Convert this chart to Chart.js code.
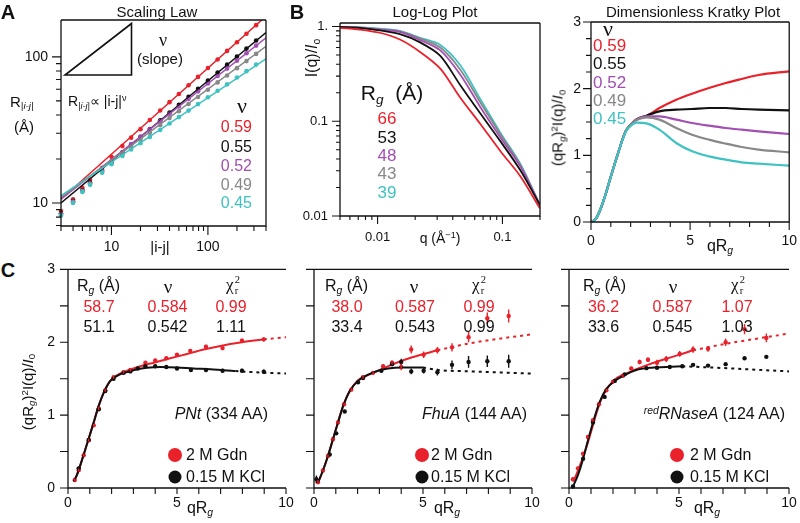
<!DOCTYPE html>
<html>
<head>
<meta charset="utf-8">
<script src="https://cdn.jsdelivr.net/npm/chart.js@4.4.0/dist/chart.umd.min.js"></script>
<style>
  body { margin: 0; background: #fff; }
  #fig { position: relative; width: 800px; height: 523px; overflow: hidden; background: #fff; }
  #fig canvas { position: absolute; }
  .t { position: absolute; white-space: nowrap; line-height: 1; font-family: 'Liberation Sans', Arial, sans-serif; color: #111; }
  .t sub, .t sup { font-size: 65%; line-height: 0; }
  .t sub { vertical-align: -0.3em; }
  .t sup { vertical-align: 0.5em; }
  .ss { display: inline-flex; flex-direction: column; font-size: 62%; line-height: 1.05; vertical-align: 0.7em; margin-left: 1px; }
  .dot { position: absolute; border-radius: 50%; transform: translate(-50%, -50%); }
</style>
</head>
<body>
<div id="fig"></div>
<script>
const FONT = "'Liberation Sans', Arial, sans-serif";
const SERIF = "'Liberation Serif', 'DejaVu Serif', serif";
const RED = '#e8212b', BLK = '#111111', PUR = '#a24fb2', GRY = '#888888', CYN = '#3ec2c2';

// ---- A: scaling law ----
const aN = [3, 4, 5, 6, 8, 10, 13, 16, 20, 25, 32, 40, 50, 63, 79, 100, 126, 158, 200, 251, 316];
const aRed = [8.8, 10.6, 12.7, 14.4, 17.4, 20.7, 24.5, 28, 32, 37, 43, 49, 55.7, 64, 73, 84, 96, 110, 126, 144, 165];
const aBlack = [8.5, 10.3, 12.2, 13.8, 16.8, 19.2, 22.2, 25.1, 28.4, 32.1, 36.8, 41.6, 47, 53.4, 60.4, 68.8, 78.1, 88.5, 100.7, 114, 129.5];
const aPurple = [8.4, 10.2, 12.1, 13.6, 16.5, 19, 22, 25.3, 28.4, 31.9, 36.3, 40.8, 45.8, 51.6, 58.1, 65.7, 74.1, 83.2, 94.1, 105.9, 119.5];
const aGray = [8.3, 10.1, 12, 13.5, 16.3, 18.7, 21.5, 24.3, 27.1, 30.2, 34.1, 38.1, 42.5, 47.6, 53.2, 59.6, 66.9, 74.6, 83.8, 93.6, 104.9];
const aCyan = [8.2, 10, 11.9, 13.3, 16.1, 18.4, 21, 23.2, 25.6, 28.3, 31.6, 35, 38.7, 42.9, 47.5, 52.9, 58.6, 64.9, 72.2, 79.9, 88.6];
const aFitX = [3, 400];
const aFitRed = [10.6, 190], aFitBlack = [10.0, 147], aFitPurple = [10.6, 135], aFitGray = [10.9, 118], aFitCyan = [11.2, 97];
const aNu = ['0.59', '0.55', '0.52', '0.49', '0.45'];
const aXTicks = [3, 4, 5, 6, 7, 8, 9, 10, 20, 30, 40, 50, 60, 70, 80, 90, 100, 200, 300, 400];
const aYTicks = [7, 8, 9, 10, 20, 30, 40, 50, 60, 70, 80, 90, 100];
const aLabels = { 10: '10', 100: '100' };

// ---- B: log-log ----
const bQ = [0.005, 0.0072, 0.0104, 0.0151, 0.0219, 0.0318, 0.046, 0.0668, 0.0968, 0.14, 0.2];
const bRed = [0.97, 0.93, 0.86, 0.73, 0.54, 0.36, 0.177, 0.093, 0.048, 0.026, 0.012];
const bBlack = [0.99, 0.97, 0.91, 0.83, 0.68, 0.49, 0.24, 0.12, 0.061, 0.03, 0.013];
const bPurple = [0.99, 0.97, 0.93, 0.88, 0.72, 0.56, 0.31, 0.14, 0.067, 0.033, 0.013];
const bGray = [0.99, 0.98, 0.94, 0.89, 0.75, 0.6, 0.35, 0.157, 0.072, 0.034, 0.013];
const bCyan = [0.99, 0.98, 0.95, 0.9, 0.76, 0.64, 0.39, 0.17, 0.075, 0.035, 0.013];
const bRg = ['66', '53', '48', '43', '39'];
const bXTicks = [0.005, 0.006, 0.007, 0.008, 0.009, 0.01, 0.02, 0.03, 0.04, 0.05, 0.06, 0.07, 0.08, 0.09, 0.1, 0.2];
const bYTicks = [0.01, 0.02, 0.03, 0.04, 0.05, 0.06, 0.07, 0.08, 0.09, 0.1, 0.2, 0.3, 0.4, 0.5, 0.6, 0.7, 0.8, 0.9, 1];
const bXLabels = { 0.01: '0.01', 0.1: '0.1' };
const bYLabels = { 0.01: '0.01', 0.1: '0.1', 1: '1.' };

// ---- Kratky ----
const kX = [0, 0.25, 0.5, 0.75, 1.0, 1.33, 1.75, 2.0, 2.3, 2.8, 3.45, 4.3, 5.1, 5.95, 6.8, 7.6, 8.45, 10];
const kRed = [0, 0.05, 0.21, 0.43, 0.68, 1.0, 1.36, 1.46, 1.54, 1.59, 1.71, 1.835, 1.925, 2.01, 2.085, 2.145, 2.205, 2.26];
const kBlack = [0, 0.05, 0.21, 0.43, 0.68, 1.0, 1.36, 1.46, 1.54, 1.595, 1.66, 1.685, 1.695, 1.71, 1.71, 1.695, 1.685, 1.675];
const kPurple = [0, 0.05, 0.21, 0.43, 0.68, 1.0, 1.36, 1.46, 1.54, 1.585, 1.585, 1.535, 1.485, 1.445, 1.41, 1.385, 1.36, 1.32];
const kGray = [0, 0.05, 0.21, 0.43, 0.68, 1.0, 1.36, 1.46, 1.53, 1.57, 1.535, 1.41, 1.31, 1.235, 1.175, 1.125, 1.085, 1.045];
const kCyan = [0, 0.05, 0.21, 0.43, 0.68, 1.0, 1.35, 1.44, 1.49, 1.48, 1.385, 1.185, 1.06, 0.985, 0.935, 0.895, 0.875, 0.845];
const kXTicks = [0, 1, 2, 3, 4, 5, 6, 7, 8, 9, 10];
const kYTicks = [0, 0.25, 0.5, 0.75, 1, 1.25, 1.5, 1.75, 2, 2.25, 2.5, 2.75, 3];
const kXLabels = { 0: '0', 5: '5', 10: '10' };
const kYLabels = { 0: '0', 1: '1', 2: '2', 3: '3' };

// ---- C: fits [x, y], points [x, y, err] ----
const c1RedFit = [[0.26, 0.09], [0.41, 0.18], [0.69, 0.43], [0.95, 0.68], [1.18, 0.9], [1.41, 1.13], [1.64, 1.31], [1.94, 1.47], [2.32, 1.56], [2.71, 1.61], [3.32, 1.67], [3.93, 1.72], [4.69, 1.78], [5.46, 1.84], [6.22, 1.9], [6.99, 1.95], [7.98, 2.0], [8.98, 2.04]];
const c1RedExt = [[8.98, 2.04], [10, 2.07]];
const c1RedPts = [[0.31, 0.11, 0.02], [0.49, 0.245, 0.02], [0.72, 0.45, 0.02], [0.95, 0.655, 0.02], [1.18, 0.86, 0.02], [1.41, 1.09, 0.02], [1.71, 1.34, 0.02], [2.09, 1.52, 0.02], [2.55, 1.59, 0.02], [2.86, 1.62, 0.02], [3.55, 1.72, 0.02], [4.0, 1.75, 0.02], [4.51, 1.78, 0.02], [5.0, 1.83, 0.02], [5.61, 1.88, 0.02], [6.33, 1.94, 0.025], [7.09, 1.92, 0.03], [7.98, 2.02, 0.03], [8.98, 2.04, 0.03]];
const c1BlkFit = [[0.26, 0.09], [0.41, 0.18], [0.69, 0.43], [0.95, 0.68], [1.18, 0.9], [1.41, 1.13], [1.64, 1.31], [1.94, 1.47], [2.32, 1.55], [2.71, 1.59], [3.17, 1.63], [3.62, 1.65], [4.24, 1.66], [5.0, 1.655], [5.76, 1.64], [6.53, 1.63], [7.14, 1.615], [7.68, 1.605]];
const c1BlkExt = [[7.68, 1.605], [8.5, 1.59], [10, 1.57]];
const c1BlkPts = [[0.49, 0.27, 0.02], [0.95, 0.66, 0.02], [1.41, 1.08, 0.02], [1.71, 1.33, 0.02], [2.09, 1.5, 0.02], [2.55, 1.58, 0.02], [2.86, 1.6, 0.02], [3.2, 1.64, 0.02], [3.55, 1.67, 0.02], [4.0, 1.67, 0.02], [4.51, 1.66, 0.02], [5.0, 1.64, 0.02], [5.64, 1.62, 0.02], [6.33, 1.62, 0.02], [7.09, 1.61, 0.025], [7.98, 1.61, 0.025], [8.98, 1.595, 0.03]];

const c2RedFit = [[0.18, 0.07], [0.41, 0.24], [0.64, 0.44], [0.87, 0.67], [1.1, 0.9], [1.33, 1.12], [1.64, 1.33], [2.02, 1.48], [2.48, 1.55], [2.94, 1.61], [3.55, 1.69], [4.16, 1.76], [4.92, 1.83], [5.66, 1.89]];
const c2RedExt = [[5.66, 1.89], [7.22, 1.99], [10, 2.11]];
const c2RedPts = [[0.18, 0.08, 0.03], [0.41, 0.24, 0.02], [0.64, 0.44, 0.02], [0.87, 0.67, 0.02], [1.1, 0.9, 0.02], [1.38, 1.15, 0.02], [1.71, 1.35, 0.02], [2.25, 1.52, 0.02], [2.71, 1.58, 0.02], [3.17, 1.67, 0.025], [3.58, 1.72, 0.03], [4.0, 1.66, 0.045], [4.46, 1.9, 0.055], [5.03, 1.83, 0.045], [5.66, 1.89, 0.045], [6.33, 1.93, 0.055], [7.09, 2.07, 0.07], [7.95, 2.33, 0.08], [8.93, 2.36, 0.09]];
const c2BlkFit = [[0.18, 0.07], [0.41, 0.24], [0.64, 0.44], [0.87, 0.67], [1.1, 0.9], [1.33, 1.12], [1.64, 1.33], [2.02, 1.47], [2.48, 1.555], [2.94, 1.61], [3.39, 1.64], [4.0, 1.655], [5.0, 1.655]];
const c2BlkExt = [[5.0, 1.655], [5.69, 1.62], [7.22, 1.6], [10, 1.57]];
const c2BlkPts = [[0.11, 0.12, 0.05], [0.72, 0.46, 0.02], [1.02, 0.75, 0.02], [1.41, 1.05, 0.02], [2.02, 1.45, 0.02], [2.25, 1.51, 0.02], [3.09, 1.61, 0.02], [3.58, 1.7, 0.03], [4.0, 1.73, 0.045], [4.46, 1.6, 0.04], [5.03, 1.61, 0.04], [5.66, 1.59, 0.045], [6.33, 1.69, 0.06], [7.09, 1.73, 0.08], [7.95, 1.74, 0.08], [8.93, 1.74, 0.09]];

const c3RedFit = [[0.18, 0.09], [0.33, 0.18], [0.56, 0.36], [0.79, 0.56], [1.02, 0.79], [1.24, 1.02], [1.47, 1.22], [1.77, 1.38], [2.08, 1.49], [2.53, 1.56], [3.06, 1.63], [3.67, 1.7], [4.27, 1.76], [5.03, 1.83], [5.64, 1.89]];
const c3RedExt = [[5.64, 1.89], [7.15, 1.98], [10, 2.12]];
const c3RedPts = [[0.18, 0.12, 0.02], [0.41, 0.27, 0.02], [0.64, 0.47, 0.02], [0.86, 0.7, 0.02], [1.09, 0.93, 0.02], [1.36, 1.15, 0.02], [1.7, 1.34, 0.02], [2.0, 1.46, 0.02], [2.45, 1.54, 0.02], [2.83, 1.64, 0.025], [3.21, 1.73, 0.03], [3.59, 1.76, 0.03], [4.0, 1.72, 0.04], [4.42, 1.77, 0.04], [5.03, 1.84, 0.04], [5.64, 1.9, 0.045], [6.32, 1.91, 0.04], [7.12, 2.0, 0.05], [7.98, 2.18, 0.07], [8.97, 2.06, 0.06]];
const c3BlkFit = [[0.18, 0.02], [0.41, 0.18], [0.64, 0.4], [0.86, 0.65], [1.09, 0.9], [1.39, 1.18], [1.7, 1.36], [2.08, 1.47], [2.53, 1.55], [3.06, 1.62], [3.67, 1.65], [4.42, 1.66], [5.15, 1.67]];
const c3BlkExt = [[5.15, 1.67], [6.39, 1.655], [10, 1.6]];
const c3BlkPts = [[0.18, 0.02, 0.01], [0.64, 0.4, 0.01], [1.09, 0.9, 0.01], [1.62, 1.25, 0.01], [2.08, 1.47, 0.01], [2.53, 1.56, 0.01], [3.52, 1.645, 0.01], [4.0, 1.65, 0.01], [4.58, 1.66, 0.01], [5.15, 1.67, 0.01], [5.64, 1.69, 0.01], [6.32, 1.68, 0.01], [7.12, 1.7, 0.01], [7.98, 1.78, 0.01], [8.97, 1.8, 0.01]];

const cXTicks = [0, 1, 2, 3, 4, 5, 6, 7, 8, 9, 10];
const cYTicks = [0, 0.5, 1, 1.5, 2, 2.5, 3];
const cXLabels = { 0: '0', 5: '5', 10: '10' };
const cYLabels = { 0: '0', 1: '1', 2: '2', 3: '3' };
const c1Stats = [['58.7', '0.584', '0.99'], ['51.1', '0.542', '1.11']];
const c2Stats = [['38.0', '0.587', '0.99'], ['33.4', '0.543', '0.99']];
const c3Stats = [['36.2', '0.587', '1.07'], ['33.6', '0.545', '1.03']];

const fig = document.getElementById('fig');

// axis lines, top/right frame and outward ticks (long for majors)
const framePlugin = {
  id: 'frame',
  afterDraw(chart, args, o) {
    const { ctx, chartArea: a } = chart;
    const x = chart.scales.x, y = chart.scales.y;
    ctx.save();
    ctx.strokeStyle = '#111';
    ctx.lineWidth = 1.3;
    ctx.beginPath();
    ctx.moveTo(a.left, a.top); ctx.lineTo(a.left, a.bottom); ctx.lineTo(a.right, a.bottom);
    if (o.right) ctx.lineTo(a.right, a.top);
    ctx.moveTo(a.left, a.top); ctx.lineTo(a.right, a.top);
    ctx.stroke();
    ctx.lineWidth = 1.1;
    ctx.beginPath();
    x.ticks.forEach(t => {
      const p = x.getPixelForValue(t.value);
      ctx.moveTo(p, a.bottom); ctx.lineTo(p, a.bottom + (t.major ? o.xl[0] : o.xl[1]));
    });
    y.ticks.forEach(t => {
      const p = y.getPixelForValue(t.value);
      ctx.moveTo(a.left, p); ctx.lineTo(a.left - (t.major ? o.yl[0] : o.yl[1]), p);
    });
    ctx.stroke();
    ctx.restore();
  }
};

const errPlugin = {
  id: 'errs',
  afterDatasetsDraw(chart) {
    const ctx = chart.ctx, ys = chart.scales.y;
    chart.data.datasets.forEach((ds, i) => {
      if (!ds.errs) return;
      const meta = chart.getDatasetMeta(i);
      ctx.save();
      ctx.strokeStyle = ds.pointBackgroundColor;
      ctx.lineWidth = 1.4;
      ctx.beginPath();
      meta.data.forEach((pt, j) => {
        const v = ds.data[j].y, e = ds.errs[j];
        ctx.moveTo(pt.x, ys.getPixelForValue(v - e));
        ctx.lineTo(pt.x, ys.getPixelForValue(v + e));
      });
      ctx.stroke();
      ctx.restore();
    });
  }
};

function axis(type, min, max, ticks, majors, labels, tl, pad, size) {
  return {
    type, min, max,
    afterBuildTicks: s => { s.ticks = ticks.map(v => ({ value: v, major: majors.includes(v) })); },
    ticks: {
      autoSkip: false, maxRotation: 0, padding: pad, color: '#111',
      font: { family: FONT, size },
      callback: v => labels[v] || ''
    },
    grid: { drawOnChartArea: false, drawTicks: true, tickLength: tl, color: 'rgba(0,0,0,0)' },
    border: { display: false }
  };
}

function plot(box, m, scales, datasets, frame) {
  const W = m.yw + box.r - box.l + m.pr, H = m.pt + box.b - box.t + m.xh;
  const cv = document.createElement('canvas');
  cv.width = W; cv.height = H;
  cv.style.width = W + 'px'; cv.style.height = H + 'px';
  cv.style.left = (box.l - m.yw) + 'px'; cv.style.top = (box.t - m.pt) + 'px';
  fig.appendChild(cv);
  scales.x.afterFit = s => { s.height = m.xh; };
  scales.y.afterFit = s => { s.width = m.yw; };
  return new Chart(cv, {
    type: 'scatter',
    data: { datasets },
    options: {
      responsive: false, animation: false, devicePixelRatio: 1,
      layout: { padding: { top: m.pt, right: m.pr, left: 0, bottom: 0 } },
      plugins: { legend: { display: false }, tooltip: { enabled: false }, frame },
      scales
    },
    plugins: [framePlugin, errPlugin]
  });
}

const xy = (xs, ys) => xs.map((x, i) => ({ x, y: ys[i] }));
const pr = a => a.map(p => ({ x: p[0], y: p[1] }));
const line = (data, color, w, dash) => ({
  data, showLine: true, borderColor: color, borderWidth: w, borderDash: dash || [],
  pointRadius: 0, cubicInterpolationMode: 'monotone', fill: false
});
const curve = (data, color, w) => ({
  data, showLine: true, borderColor: color, borderWidth: w, tension: 0.3,
  pointRadius: 0, fill: false
});
const dots = (data, color, r, errs) => ({
  data, showLine: false, pointRadius: r, pointBackgroundColor: color, pointBorderWidth: 0, clip: 6, errs
});

// A
plot({ l: 61, t: 20, r: 266, b: 226 }, { yw: 61, pt: 20, pr: 4, xh: 30 }, {
  x: axis('logarithmic', 3, 400, aXTicks, [10, 100], aLabels, 9, 4, 14),
  y: axis('logarithmic', 6.95, 179, aYTicks, [10, 100], aLabels, 9, 4, 14)
}, [
  line(xy(aFitX, aFitCyan), CYN, 1.5), line(xy(aFitX, aFitGray), GRY, 1.5), line(xy(aFitX, aFitPurple), PUR, 1.5),
  line(xy(aFitX, aFitBlack), BLK, 1.5), line(xy(aFitX, aFitRed), RED, 1.5),
  dots(xy(aN, aCyan), CYN, 2.3), dots(xy(aN, aGray), GRY, 2.3), dots(xy(aN, aPurple), PUR, 2.3),
  dots(xy(aN, aBlack), BLK, 2.3), dots(xy(aN, aRed), RED, 2.3)
], { right: true, xl: [9, 5], yl: [9, 5] });

// B
plot({ l: 340, t: 23, r: 540, b: 216 }, { yw: 50, pt: 23, pr: 8, xh: 30 }, {
  x: axis('logarithmic', 0.005, 0.2, bXTicks, [0.01, 0.1], bXLabels, 8, 6, 13),
  y: axis('logarithmic', 0.01, 1.09, bYTicks, [0.01, 0.1, 1], bYLabels, 8, 4, 13)
}, [
  curve(xy(bQ, bRed), RED, 1.8), curve(xy(bQ, bBlack), BLK, 1.8), curve(xy(bQ, bPurple), PUR, 1.8),
  curve(xy(bQ, bGray), GRY, 1.8), curve(xy(bQ, bCyan), CYN, 1.8)
], { right: true, xl: [8, 4], yl: [8, 4] });

// Kratky
plot({ l: 591, t: 22, r: 791, b: 222 }, { yw: 40, pt: 22, pr: 9, xh: 30 }, {
  x: axis('linear', 0, 10, kXTicks, [0, 5, 10], kXLabels, 8, 3, 14),
  y: axis('linear', 0, 3, kYTicks, [0, 1, 2, 3], kYLabels, 8, 2, 14)
}, [
  line(xy(kX, kCyan), CYN, 2.2), line(xy(kX, kGray), GRY, 2.2), line(xy(kX, kPurple), PUR, 2.2),
  line(xy(kX, kBlack), BLK, 2.2), line(xy(kX, kRed), RED, 2.2)
], { right: true, xl: [8, 5], yl: [8, 5] });

// C panels
function cPanel(box, pr_, labelsY, redFit, redExt, redPts, blkFit, blkExt, blkPts) {
  plot(box, { yw: 40, pt: 12, pr: pr_, xh: 28 }, {
    x: axis('linear', 0, 10, cXTicks, cXTicks, cXLabels, 6, 1, 14),
    y: axis('linear', 0, 3, cYTicks, cYTicks, labelsY, 8, 5, 14)
  }, [
    line(pr(blkExt), BLK, 2, [3, 4]), line(pr(blkFit), BLK, 2),
    dots(pr(blkPts), BLK, 2.2, blkPts.map(p => p[2])),
    line(pr(redExt), RED, 2, [3, 4]), line(pr(redFit), RED, 2),
    dots(pr(redPts), RED, 2.2, redPts.map(p => p[2]))
  ], { right: false, xl: [6, 6], yl: [8, 8] });
}
cPanel({ l: 68, t: 268, r: 286, b: 488 }, 14, cYLabels, c1RedFit, c1RedExt, c1RedPts, c1BlkFit, c1BlkExt, c1BlkPts);
cPanel({ l: 314, t: 268, r: 532, b: 488 }, 14, {}, c2RedFit, c2RedExt, c2RedPts, c2BlkFit, c2BlkExt, c2BlkPts);
cPanel({ l: 569, t: 268, r: 789, b: 488 }, 11, {}, c3RedFit, c3RedExt, c3RedPts, c3BlkFit, c3BlkExt, c3BlkPts);

// ---- text ----
function T(html, x, y, o = {}) {
  const d = document.createElement('div');
  d.className = 't';
  d.innerHTML = html;
  d.style.left = x + 'px';
  d.style.top = y + 'px';
  d.style.fontSize = (o.s || 15) + 'px';
  if (o.c) d.style.color = o.c;
  if (o.b) d.style.fontWeight = 'bold';
  if (o.f) d.style.fontFamily = o.f;
  const ax = o.a === 'l' ? '0' : o.a === 'r' ? '-100%' : '-50%';
  d.style.transform = `translate(${ax},-50%)` + (o.rot ? ' rotate(-90deg)' : '');
  fig.appendChild(d);
}
function dot(x, y, d, c) {
  const e = document.createElement('div');
  e.className = 'dot';
  e.style.left = x + 'px'; e.style.top = y + 'px';
  e.style.width = d + 'px'; e.style.height = d + 'px';
  e.style.background = c;
  fig.appendChild(e);
}
const nuCols = [RED, BLK, PUR, GRY, CYN];

T('A', 8, 12, { s: 20, b: 1 });
T('B', 297, 12, { s: 20, b: 1 });
T('C', 8, 270, { s: 20, b: 1 });

// A annotations
T('Scaling Law', 157, 11, { s: 15 });
T('R<sub><i>|i-j|</i></sub>', 10, 101, { s: 15, a: 'l' });
T('(Å)', 14, 126, { s: 15, a: 'l' });
T('ν', 163, 40, { s: 18, f: SERIF });
T('(slope)', 160, 58, { s: 15 });
T('R<sub><i>|i-j|</i></sub>∝ |i-j|<sup>ν</sup>', 68, 101, { s: 14, a: 'l' });
T('ν', 242, 106, { s: 22, f: SERIF });
aNu.forEach((v, i) => T(v, 252, [127, 147, 166, 185, 203][i], { s: 16, a: 'r', c: nuCols[i] }));
T('|i-j|', 160, 246, { s: 15 });
const tri = document.createElementNS('http://www.w3.org/2000/svg', 'svg');
tri.setAttribute('width', '800'); tri.setAttribute('height', '120');
tri.style.position = 'absolute'; tri.style.left = '0'; tri.style.top = '0';
tri.innerHTML = '<polygon points="65,75 131.5,75 131.5,23.5" fill="none" stroke="#111" stroke-width="1.6"/>';
fig.appendChild(tri);

// B annotations
T('Log-Log Plot', 435, 11, { s: 15 });
T('I(q)/<i>I</i><sub>o</sub>', 312, 58, { s: 16, rot: 1 });
T('R<sub><i>g</i></sub>&nbsp; (Å)', 392, 92, { s: 21 });
bRg.forEach((v, i) => T(v, 387, [118, 137, 155, 173, 192][i], { s: 17, c: nuCols[i] }));
T('q (Å<sup>−1</sup>)', 440, 238, { s: 14 });

// Kratky annotations
T('Dimensionless Kratky Plot', 693, 11, { s: 15 });
T('ν', 608, 29, { s: 22, f: SERIF });
aNu.forEach((v, i) => T(v, 593, [45, 63, 82, 100, 118][i], { s: 17, a: 'l', c: nuCols[i] }));
T('(qR<sub><i>g</i></sub>)<sup>2</sup>I(q)/<i>I</i><sub>0</sub>', 557, 128, { s: 15, rot: 1 });
T('qR<sub><i>g</i></sub>', 720, 246, { s: 16 });

// C annotations
T('(qR<sub><i>g</i></sub>)<sup>2</sup>I(q)/<i>I</i><sub>0</sub>', 27, 392, { s: 15, rot: 1 });
function cText(p, stats, name) {
  T('R<sub><i>g</i></sub> (Å)', p.rg, 286, { s: 16, a: 'l' });
  T('ν', p.nu, 286, { s: 19, f: SERIF });
  T('χ<span class="ss"><span>2</span><span>r</span></span>', p.chi, 285, { s: 17, f: SERIF });
  stats[0].forEach((v, i) => T(v, p.vx[i], 307, { s: 16, c: RED }));
  stats[1].forEach((v, i) => T(v, p.vx[i], 327, { s: 16, c: BLK }));
  T(name, p.nameR, 414, { s: 16, a: 'r' });
  dot(p.cx, 454.5, 14, RED);
  dot(p.cx, 476.5, 13, BLK);
  T('2 M Gdn', p.tx, 455, { s: 16, a: 'l' });
  T('0.15 M KCl', p.tx, 477, { s: 16, a: 'l' });
  T('qR<sub><i>g</i></sub>', p.qx, 508, { s: 16 });
}
cText({ rg: 77, nu: 168, chi: 233, vx: [99, 167.5, 231], nameR: 268, cx: 175, tx: 186, qx: 200 }, c1Stats, '<i>PNt</i> (334 AA)');
cText({ rg: 325, nu: 414, chi: 479, vx: [347, 415, 479], nameR: 527, cx: 422, tx: 431, qx: 447 }, c2Stats, '<i>FhuA</i> (144 AA)');
cText({ rg: 583, nu: 673, chi: 738, vx: [603.5, 672.5, 737], nameR: 785, cx: 677, tx: 690, qx: 707 }, c3Stats, '<sup><i>red</i></sup><i>RNaseA</i> (124 AA)');
</script>
</body>
</html>
